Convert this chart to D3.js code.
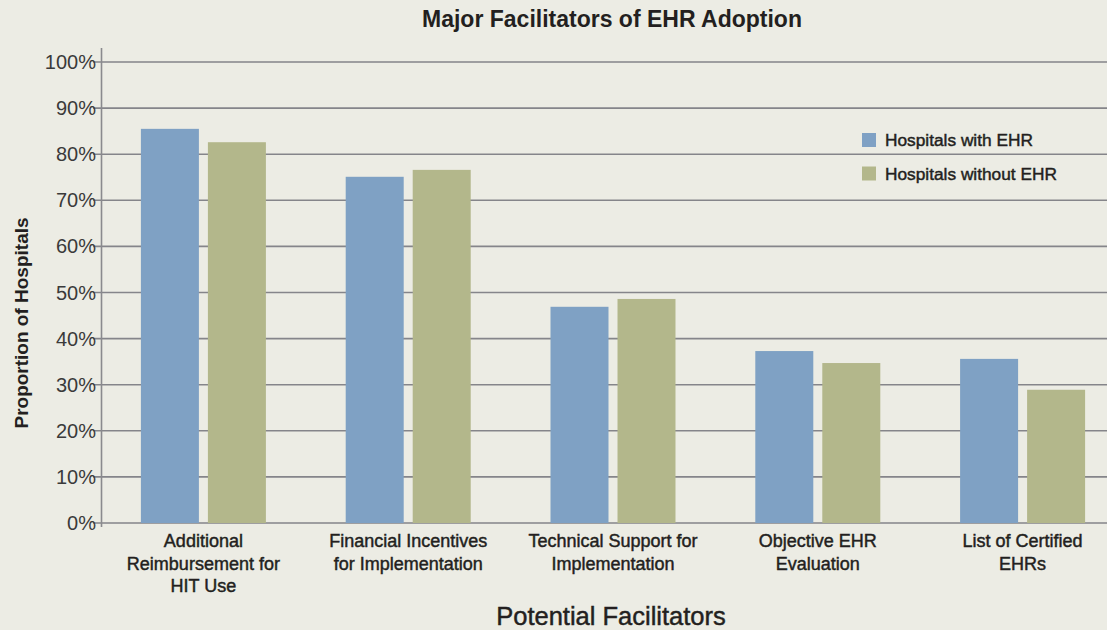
<!DOCTYPE html>
<html>
<head>
<meta charset="utf-8">
<script src="https://cdn.jsdelivr.net/npm/d3@7"></script>
<style>
html,body{margin:0;padding:0;background:#ecece4;}
svg{display:block;}
text{font-family:"Liberation Sans",Arial,Helvetica,sans-serif;fill:#231f20;}
.med{stroke:#231f20;stroke-width:0.45px;}
</style>
</head>
<body>
<svg id="chart" width="1107" height="630"></svg>
<script>
const categories = [
  ["Additional", "Reimbursement for", "HIT Use"],
  ["Financial Incentives", "for Implementation"],
  ["Technical Support for", "Implementation"],
  ["Objective EHR", "Evaluation"],
  ["List of Certified", "EHRs"]
];
const seriesNames = ["Hospitals with EHR", "Hospitals without EHR"];
const withEHR = [85.5, 75.1, 46.9, 37.3, 35.6];
const withoutEHR = [82.6, 76.6, 48.6, 34.7, 28.9];
const yTicks = [0, 10, 20, 30, 40, 50, 60, 70, 80, 90, 100];
const colors = ["#7fa1c4", "#b3b78b"];

const svg = d3.select("#chart");
const W = 1107, H = 630;
svg.append("rect").attr("width", W).attr("height", H).attr("fill", "#ecece4");

const x0 = d3.scaleBand().domain(d3.range(categories.length)).range([101, 1125]).paddingInner(0).paddingOuter(0);
const GW = 125;
const x1 = d3.scaleBand().domain([0, 1]).range([0, GW]).paddingInner(0.1343);
const groupOffset = (x0.bandwidth() - GW) / 2;
const y = d3.scaleLinear().domain([0, 100]).range([523, 62]);

// gridlines
const grid = svg.append("g");
grid.selectAll("line").data(yTicks).join("line")
  .attr("x1", 93).attr("x2", W)
  .attr("y1", d => y(d)).attr("y2", d => y(d))
  .attr("stroke", "#85858a").attr("stroke-width", 1.6);

// y axis labels
svg.append("g").selectAll("text").data(yTicks).join("text")
  .attr("x", 96).attr("y", d => y(d) + 7)
  .attr("text-anchor", "end")
  .attr("font-size", 20)
  .style("fill", "#3a3a3a")
  .text(d => d + "%");

// bars
const groups = svg.append("g").selectAll("g").data(categories).join("g")
  .attr("transform", (d, i) => `translate(${x0(i) + groupOffset},0)`);
groups.selectAll("rect").data((d, i) => [withEHR[i], withoutEHR[i]]).join("rect")
  .attr("x", (d, j) => x1(j))
  .attr("width", x1.bandwidth())
  .attr("y", d => y(d))
  .attr("height", d => y(0) - y(d))
  .attr("fill", (d, j) => colors[j]);

// vertical axis line
svg.append("line").attr("x1", 101.5).attr("x2", 101.5).attr("y1", 48).attr("y2", 527)
  .attr("stroke", "#8a8a8e").attr("stroke-width", 1.6);

// category labels
const cl = svg.append("g").selectAll("text").data(categories).join("text")
  .attr("class", "med")
  .attr("text-anchor", "middle")
  .attr("font-size", 18)
  .attr("x", (d, i) => x0(i) + x0.bandwidth() / 2)
  .attr("y", 547);
cl.selectAll("tspan").data(d => d).join("tspan")
  .attr("x", function () { return d3.select(this.parentNode).attr("x"); })
  .attr("dy", (d, k) => k === 0 ? 0 : 22.5)
  .text(d => d);

// title
svg.append("text").attr("x", 612).attr("y", 27).attr("text-anchor", "middle")
  .attr("font-size", 23).attr("font-weight", "bold").text("Major Facilitators of EHR Adoption");

// x title
svg.append("text").attr("class", "med").attr("x", 611).attr("y", 625).attr("text-anchor", "middle")
  .attr("font-size", 25.5).text("Potential Facilitators");

// y title
svg.append("text").attr("transform", "translate(28,323) rotate(-90)").attr("text-anchor", "middle")
  .attr("font-size", 19).attr("font-weight", "bold").text("Proportion of Hospitals");

// legend
const lg = svg.append("g").selectAll("g").data(seriesNames).join("g")
  .attr("transform", (d, i) => `translate(862,${133 + i * 33.5})`);
lg.append("rect").attr("width", 14).attr("height", 14).attr("fill", (d, i) => colors[i]);
lg.append("text").attr("class", "med").attr("x", 23).attr("y", 13).attr("font-size", 17.3).text(d => d);
</script>
</body>
</html>
